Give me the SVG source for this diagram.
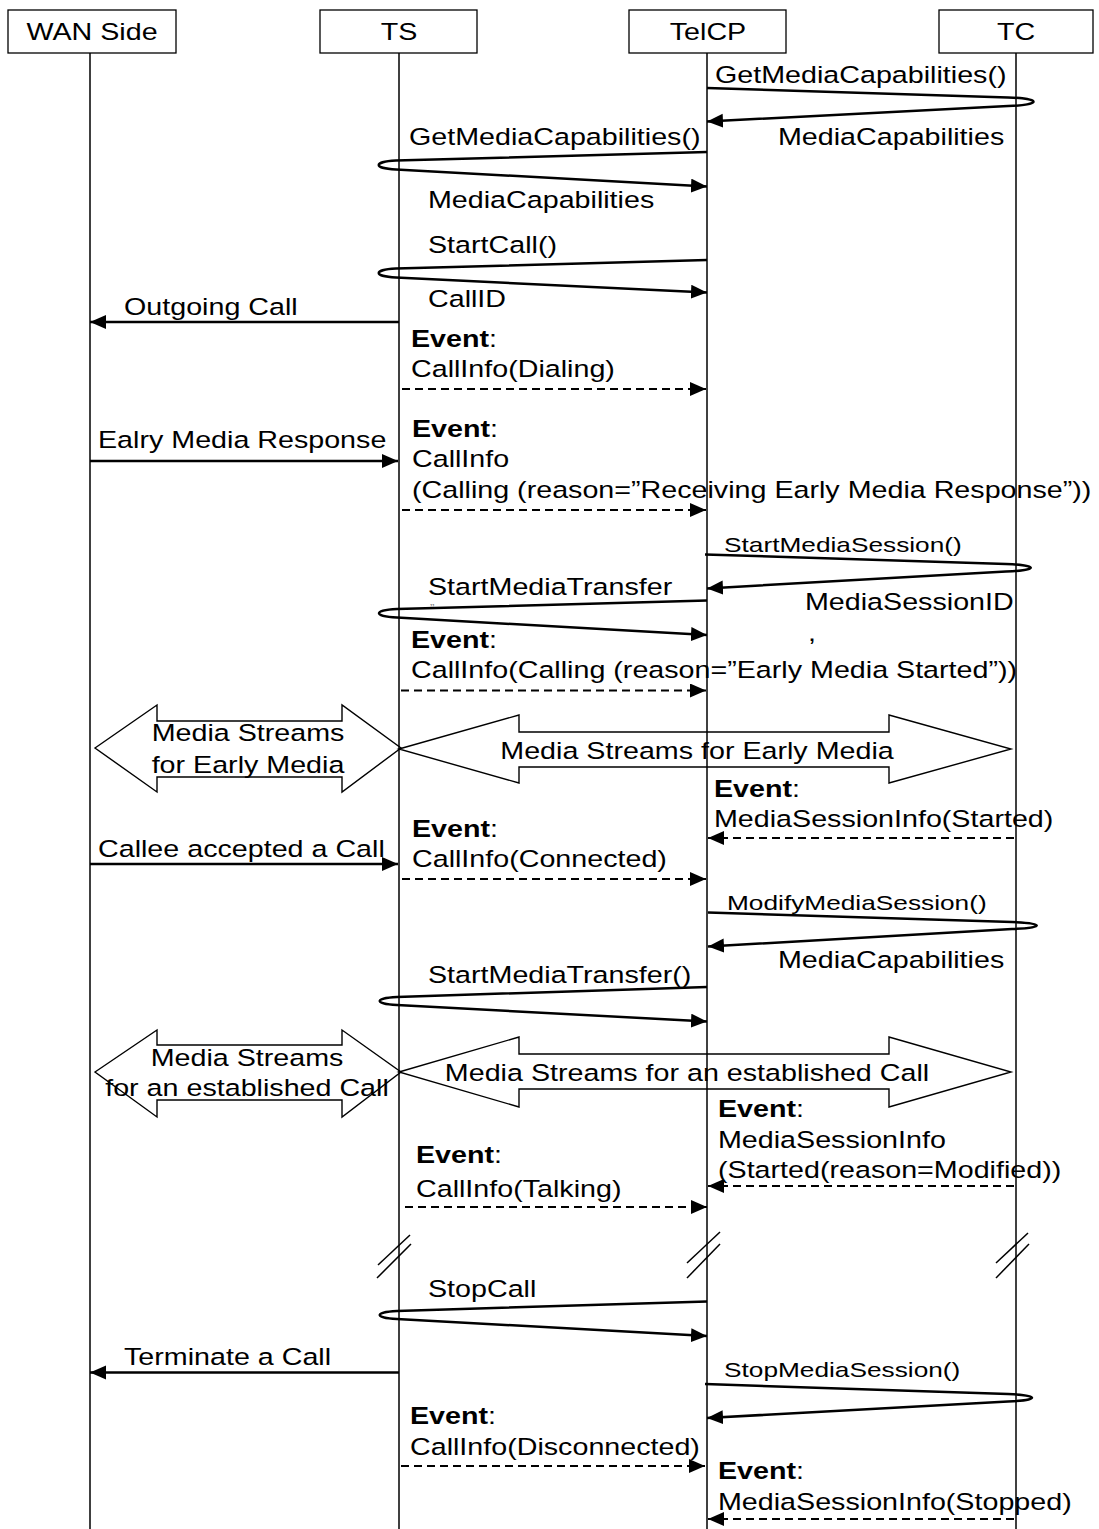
<svg xmlns="http://www.w3.org/2000/svg" width="1099" height="1529" viewBox="0 0 1099 1529">
<style>
.box{fill:#fff;stroke:#000;stroke-width:1.3}
.life{stroke:#000;stroke-width:1.5;fill:none}
.msg{stroke:#000;stroke-width:2.5;fill:none;marker-end:url(#ah)}
.dash{stroke:#000;stroke-width:2;fill:none;stroke-dasharray:8 5;marker-end:url(#ah)}
.blk{fill:none;stroke:#000;stroke-width:1.4}
.brk{stroke:#000;stroke-width:1.5}
text{font-family:"Liberation Sans",Arial,sans-serif;font-size:23.5px;fill:#000}
.s{font-size:21px}
.m{text-anchor:middle}
.b{font-weight:bold}
</style>
<defs>
<marker id="ah" markerUnits="userSpaceOnUse" markerWidth="17" markerHeight="15" refX="16" refY="7" orient="auto">
<path d="M0,0 L16,7 L0,14 z" fill="#000"/>
</marker>
</defs>
<g id="lifelines">
<line class="life" x1="90" y1="53" x2="90" y2="1529"/>
<line class="life" x1="399" y1="53" x2="399" y2="1529"/>
<line class="life" x1="707" y1="53" x2="707" y2="1529"/>
<line class="life" x1="1016" y1="53" x2="1016" y2="1529"/>
</g>
<g id="node-wan"><rect class="box" x="8" y="10" width="168" height="43"/><text class="m" transform="translate(92 40) scale(1.22 1)">WAN Side</text></g>
<g id="node-ts"><rect class="box" x="320" y="10" width="157" height="43"/><text class="m" transform="translate(399 40) scale(1.22 1)">TS</text></g>
<g id="node-telcp"><rect class="box" x="629" y="10" width="157" height="43"/><text class="m" transform="translate(708 40) scale(1.22 1)">TelCP</text></g>
<g id="node-tc"><rect class="box" x="939" y="10" width="154" height="43"/><text class="m" transform="translate(1016 40) scale(1.22 1)">TC</text></g>
<g id="breaks">
<line class="brk" x1="378" y1="1265" x2="410" y2="1235"/><line class="brk" x1="377" y1="1278" x2="411" y2="1244"/>
<line class="brk" x1="687" y1="1263" x2="720" y2="1232"/><line class="brk" x1="687" y1="1278" x2="720" y2="1244"/>
<line class="brk" x1="996" y1="1263" x2="1028" y2="1233"/><line class="brk" x1="996" y1="1278" x2="1029" y2="1244"/>
</g>
<g id="connectors">
<path class="msg" d="M707,88 L1008,97.5 C1042,98.5 1042,105 1008,106 L707,121.5"/>
<path class="msg" d="M707,152 L396,160.5 C373,161.5 373,168.5 396,169.5 L707,186.5"/>
<path class="msg" d="M707,260 L396,268.5 C373,269.5 373,276.5 396,277.5 L707,292.5"/>
<path class="msg" d="M399,322 L90,322"/>
<path class="dash" d="M402,389 L706,389"/>
<path class="msg" d="M90,461 L398,461"/>
<path class="dash" d="M402,510 L706,510"/>
<path class="msg" d="M705,554.5 L1006,564 C1039,565 1039,570.5 1006,571.5 L707,588.5"/>
<path class="msg" d="M707,600.5 L397,609 C373,610 373,616.5 397,617.5 L707,635"/>
<path class="dash" d="M401,690.5 L706,690.5"/>
<polygon class="blk" points="95,748 157,705 157,721 342,721 342,705 401,748 342,792 342,777 157,777 157,792"/>
<polygon class="blk" points="399,749 519,715 519,732 889,732 889,715 1011,749 889,783 889,767 519,767 519,783"/>
<path class="dash" d="M1014,838 L708,838"/>
<path class="msg" d="M90,864 L398,864"/>
<path class="dash" d="M402,879 L706,879"/>
<path class="msg" d="M708,912.5 L1012,922 C1045,923 1045,928 1012,929 L708,946.5"/>
<path class="msg" d="M707,987 L397,997 C374,998 374,1004 397,1005 L707,1021.5"/>
<polygon class="blk" points="95,1072 157,1030 157,1045 342,1045 342,1030 401,1072 342,1117 342,1100 157,1100 157,1117"/>
<polygon class="blk" points="399,1072 519,1037 519,1054 889,1054 889,1037 1011,1072 889,1107 889,1089 519,1089 519,1107"/>
<path class="dash" d="M1014,1186 L708,1186"/>
<path class="dash" d="M405,1207 L707,1207"/>
<path class="msg" d="M707,1301.5 L397,1311 C374,1312 374,1318 397,1319 L707,1336"/>
<path class="msg" d="M399,1372.5 L90,1372.5"/>
<path class="msg" d="M705,1384 L1008,1394 C1040,1395 1040,1400.5 1008,1401.5 L707,1418"/>
<path class="dash" d="M401,1466 L705,1466"/>
<path class="dash" d="M1014,1519 L708,1519"/>
</g>
<g id="labels">
<text transform="translate(715 83) scale(1.22 1)">GetMediaCapabilities()</text>
<text transform="translate(778 145) scale(1.22 1)">MediaCapabilities</text>
<text transform="translate(409 145) scale(1.22 1)">GetMediaCapabilities()</text>
<text transform="translate(428 208) scale(1.22 1)">MediaCapabilities</text>
<text transform="translate(428 253) scale(1.22 1)">StartCall()</text>
<text transform="translate(428 307) scale(1.22 1)">CallID</text>
<text transform="translate(124 315) scale(1.22 1)">Outgoing Call</text>
<text transform="translate(411 347) scale(1.22 1)"><tspan class="b">Event</tspan>:</text>
<text transform="translate(411 377) scale(1.22 1)">CallInfo(Dialing)</text>
<text transform="translate(98 448) scale(1.22 1)">Ealry Media Response</text>
<text transform="translate(412 437) scale(1.22 1)"><tspan class="b">Event</tspan>:</text>
<text transform="translate(412 467) scale(1.22 1)">CallInfo</text>
<text transform="translate(412 498) scale(1.22 1)">(Calling (reason=”Receiving Early Media Response”))</text>
<text class="s" transform="translate(724 552) scale(1.25 1)">StartMediaSession()</text>
<text transform="translate(428 595) scale(1.22 1)">StartMediaTransfer</text>
<text transform="translate(430 612) scale(1.22 1)" style="font-size:11px;fill:#888">”</text>
<text transform="translate(805 610) scale(1.22 1)">MediaSessionID</text>
<text transform="translate(808 641) scale(1.22 1)">,</text>
<text transform="translate(411 648) scale(1.22 1)"><tspan class="b">Event</tspan>:</text>
<text transform="translate(411 678) scale(1.22 1)">CallInfo(Calling (reason=”Early Media Started”))</text>
<text class="m" transform="translate(248 741) scale(1.22 1)">Media Streams</text>
<text class="m" transform="translate(248 773) scale(1.22 1)">for Early Media</text>
<text class="m" transform="translate(697 759) scale(1.22 1)">Media Streams for Early Media</text>
<text transform="translate(714 797) scale(1.22 1)"><tspan class="b">Event</tspan>:</text>
<text transform="translate(714 827) scale(1.22 1)">MediaSessionInfo(Started)</text>
<text transform="translate(98 857) scale(1.22 1)">Callee accepted a Call</text>
<text transform="translate(412 837) scale(1.22 1)"><tspan class="b">Event</tspan>:</text>
<text transform="translate(412 867) scale(1.22 1)">CallInfo(Connected)</text>
<text class="s" transform="translate(727 910) scale(1.25 1)">ModifyMediaSession()</text>
<text transform="translate(778 968) scale(1.22 1)">MediaCapabilities</text>
<text transform="translate(428 983) scale(1.22 1)">StartMediaTransfer()</text>
<text class="m" transform="translate(247 1066) scale(1.22 1)">Media Streams</text>
<text class="m" transform="translate(247 1096) scale(1.22 1)">for an established Call</text>
<text class="m" transform="translate(687 1081) scale(1.22 1)">Media Streams for an established Call</text>
<text transform="translate(718 1117) scale(1.22 1)"><tspan class="b">Event</tspan>:</text>
<text transform="translate(718 1148) scale(1.22 1)">MediaSessionInfo</text>
<text transform="translate(718 1178) scale(1.22 1)">(Started(reason=Modified))</text>
<text transform="translate(416 1163) scale(1.22 1)"><tspan class="b">Event</tspan>:</text>
<text transform="translate(416 1197) scale(1.22 1)">CallInfo(Talking)</text>
<text transform="translate(428 1297) scale(1.22 1)">StopCall</text>
<text transform="translate(124 1365) scale(1.22 1)">Terminate a Call</text>
<text class="s" transform="translate(724 1377) scale(1.25 1)">StopMediaSession()</text>
<text transform="translate(410 1424) scale(1.22 1)"><tspan class="b">Event</tspan>:</text>
<text transform="translate(410 1455) scale(1.22 1)">CallInfo(Disconnected)</text>
<text transform="translate(718 1479) scale(1.22 1)"><tspan class="b">Event</tspan>:</text>
<text transform="translate(718 1510) scale(1.22 1)">MediaSessionInfo(Stopped)</text>
</g>
</svg>
